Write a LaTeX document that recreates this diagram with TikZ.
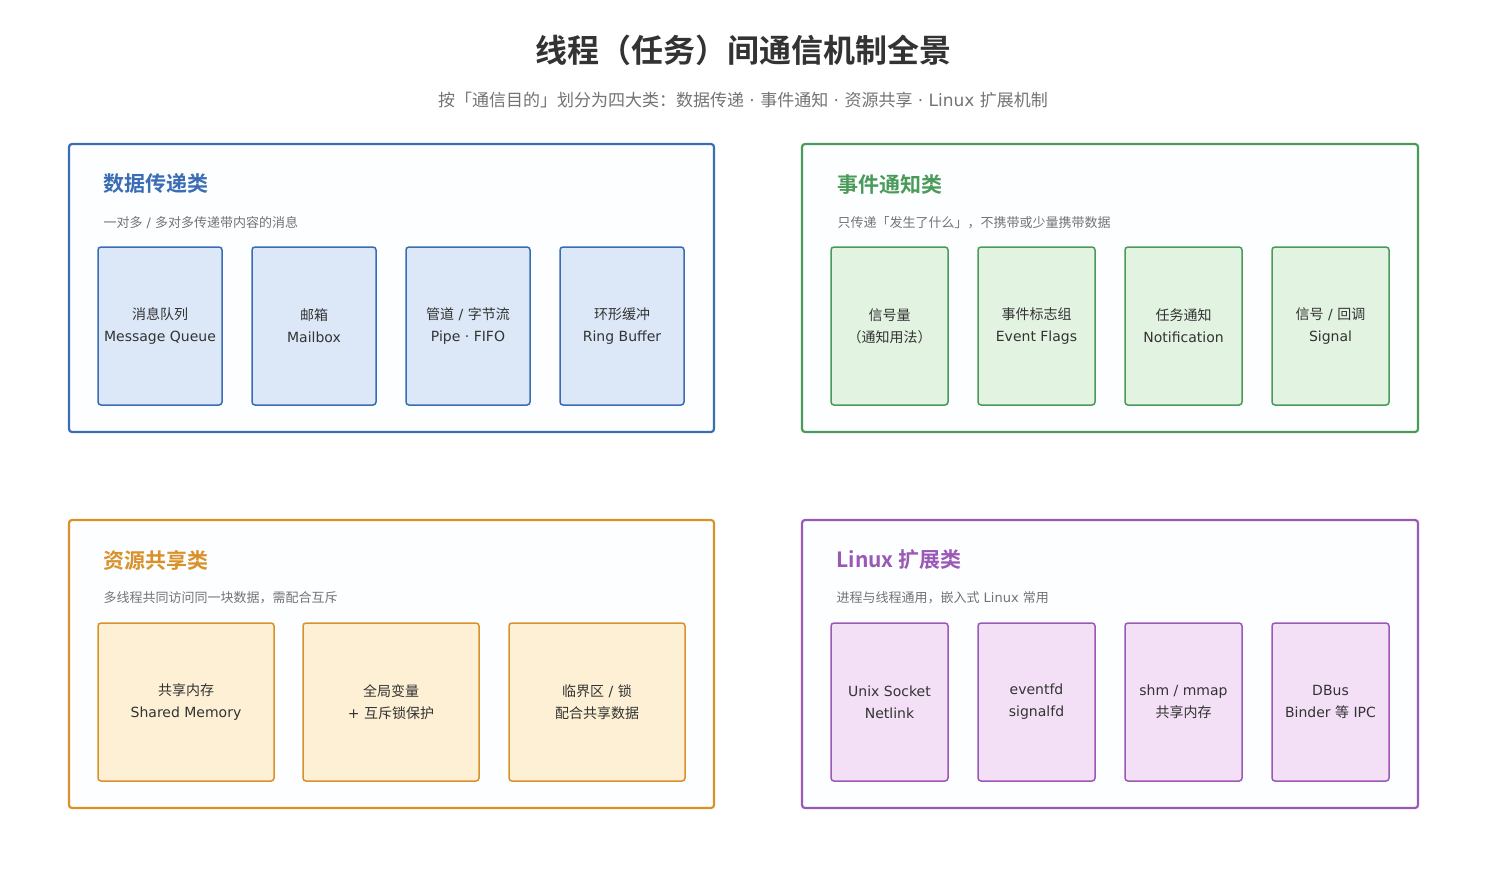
\documentclass[tikz,border=0pt]{standalone}
\usepackage{fontspec}
\setmainfont{DejaVu Sans}
\newfontfamily\cjk{Noto Sans CJK SC}
\newfontfamily\cjkb{Noto Sans CJK SC Bold}
\let\cjkcur\cjk
\XeTeXinterchartokenstate=1
\newXeTeXintercharclass\cjkclass
\newcount\cc
\def\setrange#1#2{\cc=#1\relax\loop\XeTeXcharclass\cc=\cjkclass\advance\cc by 1\relax\ifnum\cc<#2\repeat}
\setrange{"3000}{"3040}
\setrange{"4E00}{"A000}
\setrange{"FF00}{"FFF0}
\XeTeXinterchartoks 0 \cjkclass {\begingroup\cjkcur}
\XeTeXinterchartoks 4095 \cjkclass {\begingroup\cjkcur}
\XeTeXinterchartoks \cjkclass 0 {\endgroup}
\XeTeXinterchartoks \cjkclass 4095 {\endgroup}
\begin{document}
\begin{tikzpicture}[x=1pt,y=-1pt,
  panel/.style={draw=#1,line width=2.2pt,rounded corners=3pt,fill=white!97!cyan!30},
  box/.style={draw=#1,line width=1.5pt,rounded corners=3pt},
  lbl/.style={font=\fontsize{14}{22}\selectfont,text=black!80,align=center},
  ptitle/.style={anchor=west,font=\let\cjkcur\cjkb\cjkb\fontsize{21}{24}\selectfont},
  psub/.style={anchor=west,font=\fontsize{13}{16}\selectfont,text=black!55}]
\definecolor{cb}{HTML}{3B6DB5}\definecolor{cg}{HTML}{4A9A5A}
\definecolor{co}{HTML}{D9912A}\definecolor{cp}{HTML}{9B59B6}
\definecolor{fb}{HTML}{DCE8F8}\definecolor{fg}{HTML}{E3F3E2}
\definecolor{fo}{HTML}{FDF0D5}\definecolor{fp}{HTML}{F3E0F6}
\useasboundingbox (0,0) rectangle (1487,886);
\node[font=\let\cjkcur\cjkb\cjkb\fontsize{32}{36}\selectfont,text=black!80] (title) at (743,50) {线程（任务）间通信机制全景};
\node[font=\fontsize{17}{20}\selectfont,text=black!55] (sub) at (743,100) {按「通信目的」划分为四大类：数据传递 · 事件通知 · 资源共享 · Linux 扩展机制};
% panels
\draw[panel=cb] (69,144) rectangle (714,432);
\draw[panel=cg] (802,144) rectangle (1418,432);
\draw[panel=co] (69,520) rectangle (714,808);
\draw[panel=cp] (802,520) rectangle (1418,808);
\node[ptitle,text=cb] (t1) at (100,183) {数据传递类};
\node[psub] (s1) at (100,223) {一对多 / 多对多传递带内容的消息};
\node[ptitle,text=cg] (t2) at (834,185) {事件通知类};
\node[psub] (s2) at (834,223) {只传递「发生了什么」，不携带或少量携带数据};
\node[ptitle,text=co] (t3) at (100,560) {资源共享类};
\node[psub] (s3) at (100,598) {多线程共同访问同一块数据，需配合互斥};
\node[ptitle,text=cp] (t4) at (833,560) {Linux 扩展类};
\node[psub] (s4) at (833,598) {进程与线程通用，嵌入式 Linux 常用};
% boxes
\foreach \a/\b/\l [count=\i] in {98/222/{消息队列\\Message Queue},252/376/{邮箱\\Mailbox},406/530/{管道 / 字节流\\Pipe · FIFO},560/684/{环形缓冲\\Ring Buffer}}{
  \draw[box=cb,fill=fb] (\a,247) rectangle (\b,405);
  \node[lbl] (b1\i) at ({(\a+\b)/2},326) {\l};}
\foreach \a/\b/\l [count=\i] in {831/948/{信号量\\（通知用法）},978/1095/{事件标志组\\Event Flags},1125/1242/{任务通知\\Notification},1272/1389/{信号 / 回调\\Signal}}{
  \draw[box=cg,fill=fg] (\a,247) rectangle (\b,405);
  \node[lbl] (b2\i) at ({(\a+\b)/2},326) {\l};}
\foreach \a/\b/\l [count=\i] in {98/274/{共享内存\\Shared Memory},303/479/{全局变量\\+ 互斥锁保护},509/685/{临界区 / 锁\\配合共享数据}}{
  \draw[box=co,fill=fo] (\a,623) rectangle (\b,781);
  \node[lbl] (b3\i) at ({(\a+\b)/2},702) {\l};}
\foreach \a/\b/\l [count=\i] in {831/948/{Unix Socket\\Netlink},978/1095/{eventfd\\signalfd},1125/1242/{shm / mmap\\共享内存},1272/1389/{DBus\\Binder 等 IPC}}{
  \draw[box=cp,fill=fp] (\a,623) rectangle (\b,781);
  \node[lbl] (b4\i) at ({(\a+\b)/2},702) {\l};}
\end{tikzpicture}
\end{document}
